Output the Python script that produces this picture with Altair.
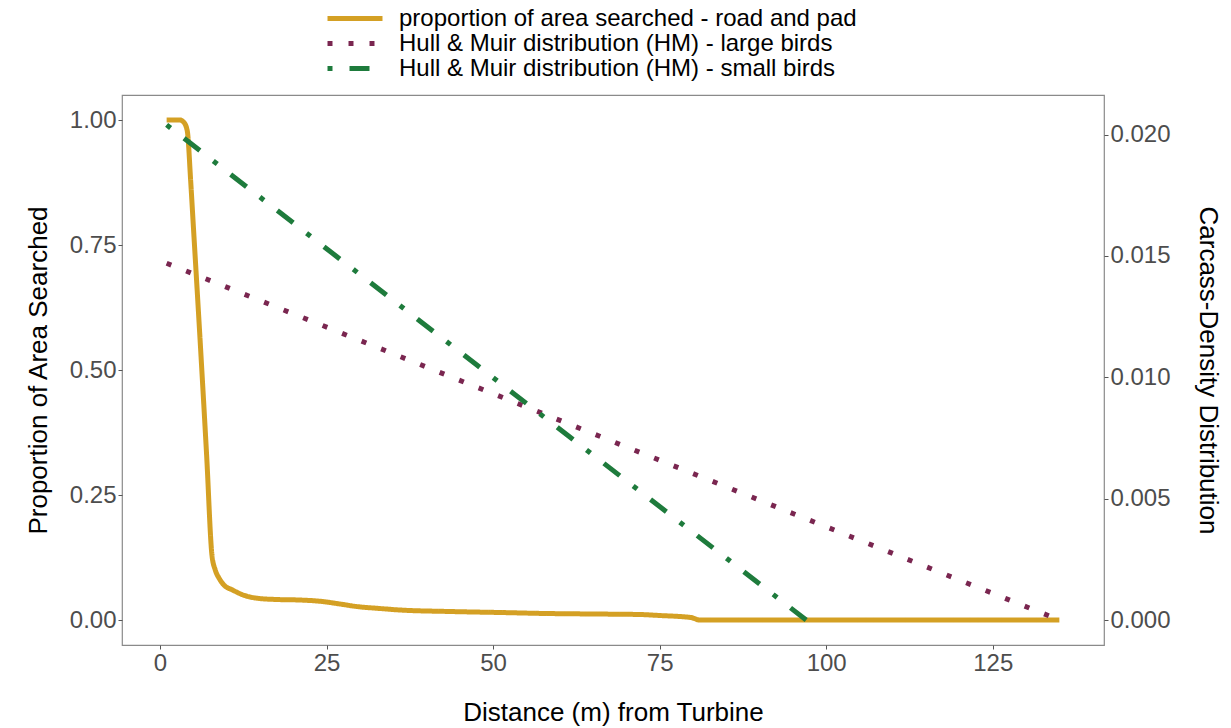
import altair as alt
import pandas as pd

# --- data ---
prop_dist = [1, 3, 3.6, 4.1, 4.6, 5, 6, 7, 7.8, 8.3, 8.9, 9.6, 10.9, 12.5, 14.9, 17.5,
             20.9, 24.4, 27, 29.5, 33, 36, 43.5, 51, 58, 65, 72, 75, 79.7, 81, 135]
prop_val = [1.0, 1.0, 0.995, 0.978, 0.88, 0.79, 0.565, 0.33, 0.13, 0.1, 0.083, 0.07, 0.06,
            0.05, 0.043, 0.041, 0.04, 0.037, 0.032, 0.027, 0.023, 0.02, 0.017, 0.015,
            0.013, 0.012, 0.011, 0.009, 0.005, 0.0, 0.0]

hm_large_dist = [1, 135]
hm_large_val = [0.0147, 0.0]
hm_small_dist = [1, 97]
hm_small_val = [0.0204, 0.0]

series_names = [
    "proportion of area searched - road and pad",
    "Hull & Muir distribution (HM) - large birds",
    "Hull & Muir distribution (HM) - small birds",
]
series_colors = ["#D4A024", "#7A2650", "#1E7B3C"]
series_dashes = [[1, 0], [5, 16], [5, 17, 20, 17]]

K = 0.0206  # secondary axis scale factor

prop_df = pd.DataFrame({"distance": prop_dist, "value": prop_val, "series": series_names[0]})
hm_df = pd.concat([
    pd.DataFrame({"distance": hm_large_dist, "value": hm_large_val, "series": series_names[1]}),
    pd.DataFrame({"distance": hm_small_dist, "value": hm_small_val, "series": series_names[2]}),
])

FONT = "Liberation Sans"

x_enc = alt.X("distance:Q",
              scale=alt.Scale(domain=[-5.7, 141.7], nice=False, zero=False),
              axis=alt.Axis(values=[0, 25, 50, 75, 100, 125], title="Distance (m) from Turbine",
                            titlePadding=24))

color_enc = alt.Color("series:N",
                      scale=alt.Scale(domain=series_names, range=series_colors),
                      legend=alt.Legend(title=None))
dash_enc = alt.StrokeDash("series:N",
                          scale=alt.Scale(domain=series_names, range=series_dashes),
                          legend=alt.Legend(title=None))

prop_line = alt.Chart(prop_df).mark_line(strokeWidth=5, interpolate="monotone").encode(
    x=x_enc,
    y=alt.Y("value:Q",
            scale=alt.Scale(domain=[-0.05, 1.05], nice=False, zero=False),
            axis=alt.Axis(values=[0, 0.25, 0.5, 0.75, 1.0], format=".2f",
                          title="Proportion of Area Searched", titlePadding=18)),
    color=color_enc,
    strokeDash=dash_enc,
    order=alt.Order("distance:Q"),
)

hm_lines = alt.Chart(hm_df).mark_line(strokeWidth=5).encode(
    x=x_enc,
    y=alt.Y("value:Q",
            scale=alt.Scale(domain=[-0.05 * K, 1.05 * K], nice=False, zero=False),
            axis=alt.Axis(orient="right", values=[0, 0.005, 0.01, 0.015, 0.02], format=".3f",
                          title="Carcass-Density Distribution", titlePadding=24)),
    color=color_enc,
    strokeDash=dash_enc,
    detail="series:N",
)

chart = alt.layer(prop_line, hm_lines).resolve_scale(y="independent").properties(
    width=982, height=550,
    autosize=alt.AutoSizeParams(type="none"),
    padding={"left": 122, "top": 95, "right": 127, "bottom": 83},
).configure_view(
    stroke="#8A8A8A", strokeWidth=1.2
).configure_axis(
    grid=False, domain=False,
    labelFont=FONT, labelFontSize=24, labelColor="#4D4D4D", labelPadding=2,
    tickColor="#555555", tickSize=4,
    titleFont=FONT, titleFontSize=26, titleFontWeight="normal", titleColor="#000000",
).configure_legend(
    orient="none", legendX=203, legendY=-89, direction="vertical",
    labelFont=FONT, labelFontSize=24, labelColor="#000000", labelLimit=0,
    symbolType="stroke", symbolSize=3025, symbolStrokeWidth=5,
    clipHeight=25, rowPadding=0, labelOffset=14, padding=0,
)

chart.save("out.html", embed_options={"renderer": "svg", "actions": False})
